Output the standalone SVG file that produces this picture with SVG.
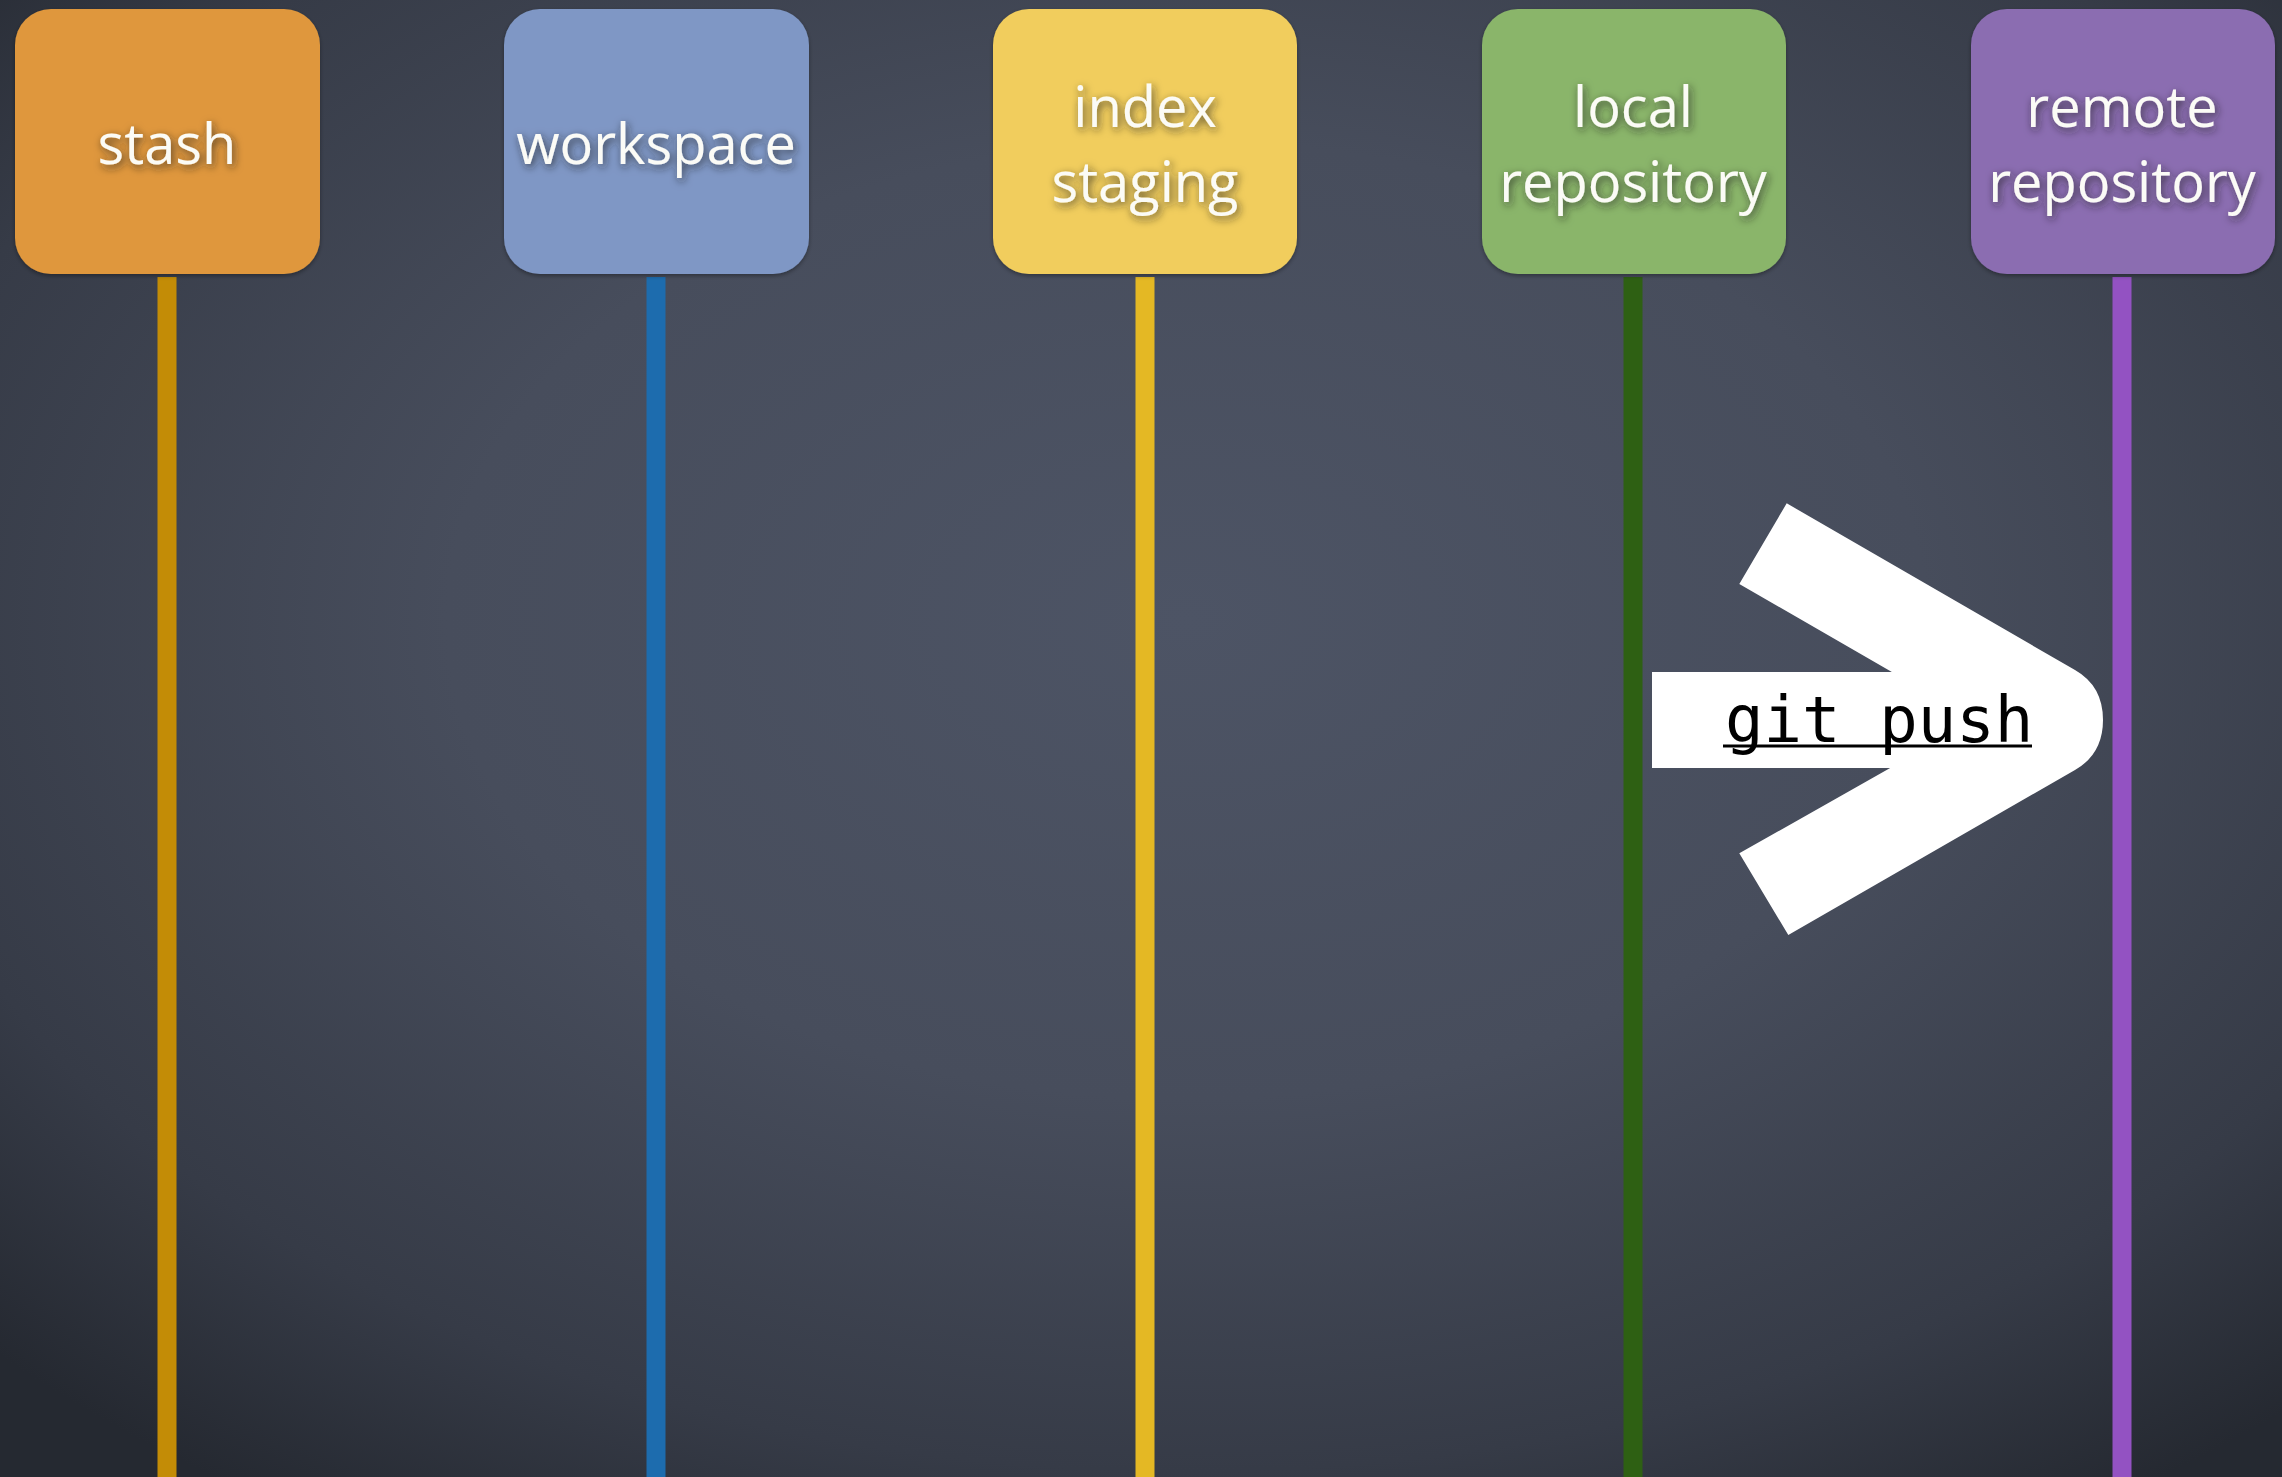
<svg xmlns="http://www.w3.org/2000/svg" width="2282" height="1477" viewBox="0 0 2282 1477">
<defs>
<radialGradient id="bg" cx="0.52" cy="0.42" r="0.72">
<stop offset="0" stop-color="#4d5465"/>
<stop offset="0.45" stop-color="#474d5c"/>
<stop offset="0.8" stop-color="#363b47"/>
<stop offset="1" stop-color="#252931"/>
</radialGradient>
<filter id="chalk" x="-20%" y="-40%" width="140%" height="180%">
<feDropShadow dx="2" dy="3" stdDeviation="4" flood-color="#222" flood-opacity="0.75"/>
</filter>
<filter id="boxsh" x="-5%" y="-5%" width="110%" height="115%">
<feDropShadow dx="0" dy="2" stdDeviation="2" flood-color="#000" flood-opacity="0.35"/>
</filter>
<style>
.box{filter:url(#boxsh)}
.lbl{font-family:"Open Sans","Noto Sans",sans-serif;font-size:56px;fill:#fbfbf6;text-anchor:middle;filter:url(#chalk)}
.life{stroke-width:19;fill:none}
.cmd{font-family:"DejaVu Sans Mono","Liberation Mono",monospace;font-size:64px;fill:#000}
</style>
</defs>
<rect width="2282" height="1477" fill="url(#bg)"/>
<g id="connectors">
<line class="life" x1="167" y1="277" x2="167" y2="1477" stroke="#c38c06"/>
<line class="life" x1="656" y1="277" x2="656" y2="1477" stroke="#1d6cae"/>
<line class="life" x1="1145" y1="277" x2="1145" y2="1477" stroke="#e4b824"/>
<line class="life" x1="1633" y1="277" x2="1633" y2="1477" stroke="#2e6013"/>
<line class="life" x1="2122" y1="277" x2="2122" y2="1477" stroke="#9352c2"/>
<g id="push-arrow">
<path d="M1786.7,503.3 L2075,670 Q2103,686 2103,720 Q2103,754 2075,770 L1788.3,935 L1739.3,853.3 L1975,720 L1739.3,584 Z" fill="#fff"/>
<rect x="1652" y="672" width="330" height="96" fill="#fff"/>
<text class="cmd" x="1725" y="742">git push</text>
<line x1="1723" y1="746" x2="2032" y2="746" stroke="#000" stroke-width="3"/>
</g>
</g>
<g id="stash">
<rect class="box" x="15" y="9" width="305" height="265" rx="36" fill="#df973c"/>
<text class="lbl" x="167" y="164">stash</text>
</g>
<g id="workspace">
<rect class="box" x="504" y="9" width="305" height="265" rx="36" fill="#7f97c5"/>
<text class="lbl" x="656" y="164">workspace</text>
</g>
<g id="index">
<rect class="box" x="993" y="9" width="304" height="265" rx="36" fill="#f1cd5d"/>
<text class="lbl" x="1145" y="127">index</text>
<text class="lbl" x="1145" y="202">staging</text>
</g>
<g id="local">
<rect class="box" x="1482" y="9" width="304" height="265" rx="36" fill="#8ab56b"/>
<text class="lbl" x="1633" y="127">local</text>
<text class="lbl" x="1633" y="202">repository</text>
</g>
<g id="remote">
<rect class="box" x="1971" y="9" width="304" height="265" rx="36" fill="#8b6db1"/>
<text class="lbl" x="2122" y="127">remote</text>
<text class="lbl" x="2122" y="202">repository</text>
</g>
</svg>
